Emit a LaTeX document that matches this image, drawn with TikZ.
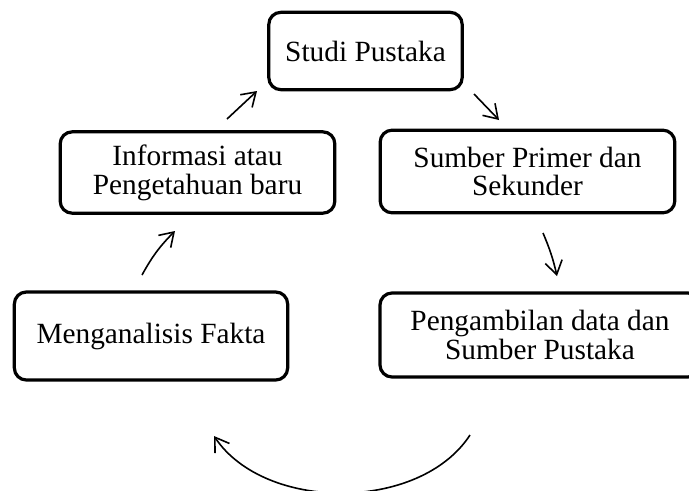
\documentclass[tikz,border=0pt]{standalone}
\usepackage{fontspec}
\setmainfont{Liberation Serif}
\usetikzlibrary{arrows.meta}

\begin{document}
\begin{tikzpicture}[x=0.75pt,y=-0.75pt]
\tikzset{Kotak/.style={draw, line width=2.4pt, rounded corners=9pt, align=center,
    inner sep=0pt, font=\fontsize{22}{21.5}\selectfont},
  Panah/.style={-{Straight Barb[length=10pt,width=13pt]}, line width=1.2pt}}
\useasboundingbox (0,0) rectangle (689,490);
\clip (0,0) rectangle (689,490);
\node[Kotak, minimum width=145pt, minimum height=58pt] (studi) at (365.5,51) {Studi Pustaka};
\node[Kotak, minimum width=206pt, minimum height=61pt] (info) at (197.5,172.5) {Informasi atau\\Pengetahuan baru};
\node[Kotak, minimum width=221pt, minimum height=62pt] (sumber) at (527.5,171.5) {Sumber Primer dan\\Sekunder};
\node[Kotak, minimum width=205pt, minimum height=66pt] (fakta) at (151,336) {Menganalisis Fakta};
\node[Kotak, minimum width=240pt, minimum height=63pt] (ambil) at (540,335) {Pengambilan data dan\\Sumber Pustaka};
\coordinate (a1) at (227,119);
\coordinate (b1) at (257,91);
\coordinate (a2) at (474,94);
\coordinate (b2) at (499,120);
\coordinate (a3) at (543,233);
\coordinate (b3) at (557,276);
\coordinate (a4) at (470,435);
\coordinate (b4) at (214,436);
\coordinate (a5) at (142,275);
\coordinate (b5) at (175,231);
\draw[Panah] (a1) -- (b1);
\draw[Panah] (a2) -- (b2);
\draw[Panah] (a3) to[bend left=5] (b3);
\draw[Panah] (a4) .. controls (420,512) and (265,512) .. (b4);
\draw[Panah] (a5) to[bend left=8] (b5);
\end{tikzpicture}
\end{document}
